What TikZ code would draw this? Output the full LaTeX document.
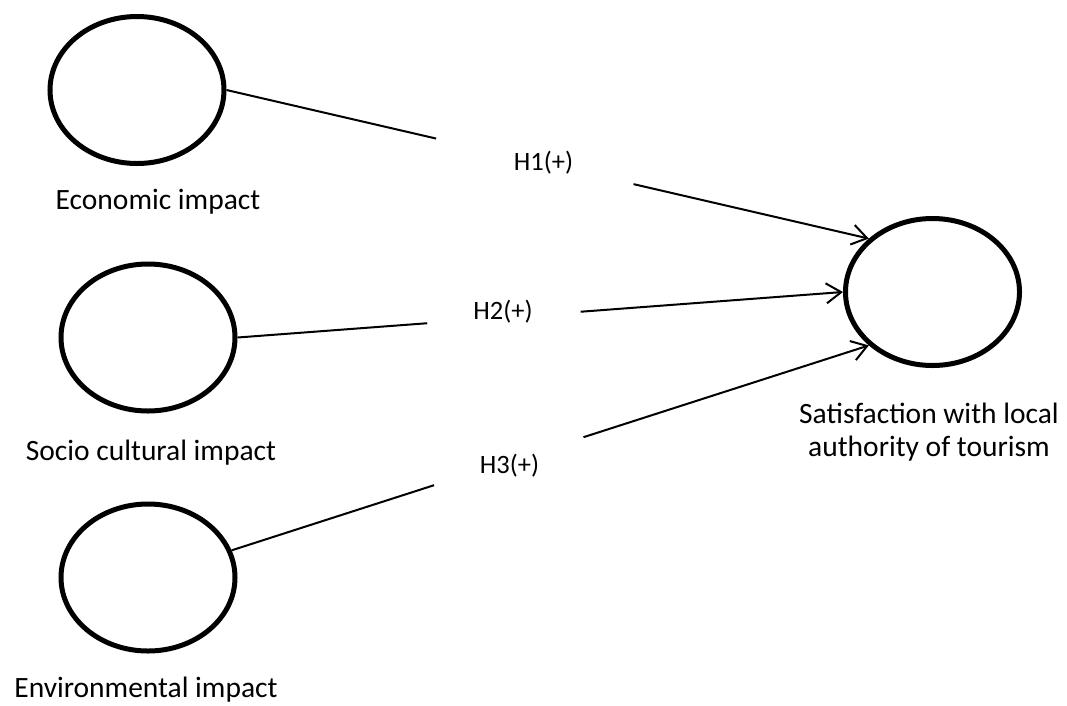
\documentclass[tikz,border=0pt]{standalone}
\usepackage{fontspec}
\setmainfont{Carlito}
\usetikzlibrary{arrows.meta,calc,shapes.geometric}
\begin{document}
\begin{tikzpicture}[x=1pt,y=-1pt,
  latent/.style={draw, ellipse, line width=5pt, minimum width=174pt, minimum height=147pt, inner sep=0pt},
  gapbox/.style={rectangle, draw=none, inner sep=0pt, minimum height=60pt},
  link/.style={line width=2pt},
  arr/.style={line width=2pt, -{Straight Barb[length=15pt,width=20pt]}},
  lbl/.style={font=\fontsize{29.5}{33}\selectfont, inner sep=0pt, anchor=base},
  hyp/.style={font=\fontsize{26.5}{30}\selectfont, inner sep=0pt, anchor=base}]
\useasboundingbox (0,0) rectangle (1067,705);
\node[latent] (econ) at (137,90) {};
\node[latent] (socio) at (148,337.5) {};
\node[latent] (env) at (148,577.5) {};
\node[latent] (sat) at (932.5,292) {};
\node[lbl] (econL) at (158,209) {Economic impact};
\node[lbl] (socioL) at (151,460) {Socio cultural impact};
\node[lbl] (envL) at (146,697) {Environmental impact};
\node[lbl, align=center, anchor=center] (satL) at (929,432) {Satisfaction with local\\authority of tourism};
\node[gapbox, minimum width=197pt] (g1) at ($(econ.east)!0.48!(sat.140)$) {};
\node[gapbox, minimum width=153pt, minimum height=30pt] (g2) at ($(socio.east)!0.44!(sat.west)$) {};
\node[gapbox, minimum width=149pt] (g3) at ($(env.18)!0.435!(sat.220)$) {};
\node[hyp] (h1) at (543.5,170) {H1(+)};
\node[hyp] (h2) at (503,319) {H2(+)};
\node[hyp] (h3) at (509.5,473) {H3(+)};
\draw[link] (econ.east) -- (g1);
\draw[arr] (g1) -- (sat.140);
\draw[link] (socio.east) -- (g2);
\draw[arr] (g2) -- (sat.west);
\draw[link] (env.18) -- (g3);
\draw[arr] (g3) -- (sat.220);
\end{tikzpicture}
\end{document}
